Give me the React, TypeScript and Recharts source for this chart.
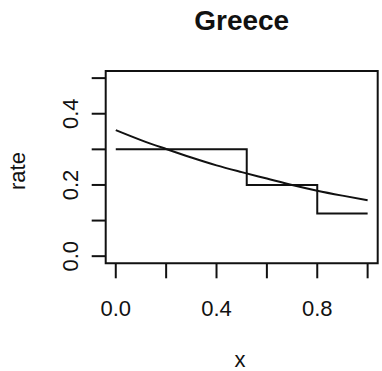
import React from 'react';
import { ComposedChart, Line, XAxis, YAxis, ReferenceArea } from 'recharts';

// Axis ticks and which of them carry labels
const xTicks = [0, 0.2, 0.4, 0.6, 0.8, 1.0];
const xLabeled = [0, 0.4, 0.8];
const yTicks = [0, 0.1, 0.2, 0.3, 0.4, 0.5];
const yLabeled = [0, 0.2, 0.4];

// Piecewise-constant rate (step estimate)
const stepX = [0, 0.52, 0.8, 1.0];
const stepRate = [0.3, 0.2, 0.12, 0.12];

// Smooth fitted rate
const curveX = [0, 0.1, 0.2, 0.3, 0.4, 0.5, 0.6, 0.7, 0.8, 0.9, 1.0];
const curveRate = [0.354, 0.326, 0.301, 0.277, 0.255, 0.236, 0.218, 0.2, 0.184, 0.17, 0.157];

const stepData = stepX.map((x, i) => ({ x, rate: stepRate[i] }));
const curveData = curveX.map((x, i) => ({ x, rate: curveRate[i] }));

const FONT = '"Liberation Sans", Arial, Helvetica, sans-serif';
const INK = '#111';

const YTick = (props: any) => {
  const { x, y, payload } = props;
  if (!yLabeled.includes(payload.value)) return null;
  return (
    <text
      x={x}
      y={y}
      transform={`rotate(-90 ${x} ${y})`}
      textAnchor="middle"
      fontSize={22}
      fontFamily={FONT}
      fill={INK}
    >
      {payload.value.toFixed(1)}
    </text>
  );
};

export default function App() {
  return (
    <div style={{ position: 'absolute', left: 0, top: 0, width: 382, height: 371, background: '#fff' }}>
      <ComposedChart
        width={382}
        height={371}
        margin={{ top: 71, right: 4.3, bottom: 0, left: 0 }}
      >
        <XAxis
          type="number"
          dataKey="x"
          domain={[-0.04, 1.04]}
          ticks={xTicks}
          allowDataOverflow
          height={107.7}
          axisLine={false}
          tickSize={15}
          tickMargin={22}
          tickLine={{ stroke: INK, strokeWidth: 2 }}
          tick={{ fontSize: 22, fontFamily: FONT, fill: INK }}
          tickFormatter={(v: number) => (xLabeled.includes(v) ? v.toFixed(1) : '')}
          interval={0}
        />
        <YAxis
          type="number"
          dataKey="rate"
          domain={[-0.02, 0.52]}
          ticks={yTicks}
          allowDataOverflow
          width={105.7}
          axisLine={false}
          tickSize={14}
          tickMargin={14}
          tickLine={{ stroke: INK, strokeWidth: 2 }}
          tick={<YTick />}
          interval={0}
        />
        <ReferenceArea
          x1={-0.04}
          x2={1.04}
          y1={-0.02}
          y2={0.52}
          fill="none"
          fillOpacity={0}
          stroke={INK}
          strokeWidth={2}
          ifOverflow="visible"
        />
        <Line
          data={stepData}
          dataKey="rate"
          type="stepAfter"
          stroke={INK}
          strokeWidth={2}
          dot={false}
          isAnimationActive={false}
        />
        <Line
          data={curveData}
          dataKey="rate"
          type="monotone"
          stroke={INK}
          strokeWidth={2}
          dot={false}
          isAnimationActive={false}
        />
      </ComposedChart>
      <svg
        width={382}
        height={371}
        style={{ position: 'absolute', left: 0, top: 0, pointerEvents: 'none' }}
      >
        <text x={241.7} y={30} textAnchor="middle" fontSize={28} fontWeight="bold" fontFamily={FONT} fill={INK}>
          Greece
        </text>
        <text
          x={25}
          y={171}
          transform="rotate(-90 25 171)"
          textAnchor="middle"
          fontSize={22}
          fontFamily={FONT}
          fill={INK}
        >
          rate
        </text>
        <text x={240} y={367} textAnchor="middle" fontSize={22} fontFamily={FONT} fill={INK}>
          x
        </text>
      </svg>
    </div>
  );
}
